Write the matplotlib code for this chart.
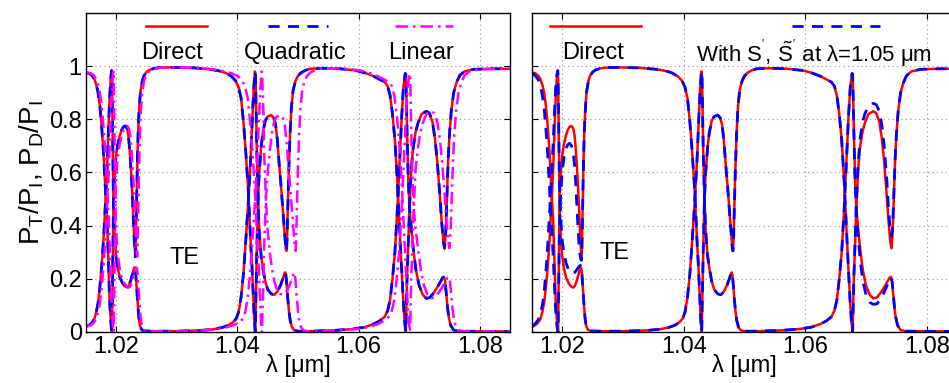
import matplotlib
matplotlib.use("Agg")
import matplotlib.pyplot as plt
from matplotlib.lines import Line2D

plt.rcParams['font.family'] = ['Liberation Sans', 'DejaVu Sans']
plt.rcParams['mathtext.fontset'] = 'custom'
plt.rcParams['mathtext.rm'] = 'Liberation Sans'
plt.rcParams['mathtext.it'] = 'Liberation Sans:italic'

# ---------------------------
# DATA
# ---------------------------
# transmitted power, direct computation
direct_T_x = [1.0150, 1.0155, 1.0160, 1.0164, 1.0167, 1.0170, 1.0173, 1.0176, 1.0179, 1.0182, 1.0185, 1.0187, 1.0189, 1.0191, 1.0192, 1.0193,
              1.0194, 1.0195, 1.0196, 1.0198, 1.0200, 1.0203, 1.0206, 1.0209, 1.0212, 1.0215, 1.0218, 1.0220, 1.0222, 1.0224, 1.0226, 1.0228,
              1.0230, 1.0231, 1.02315, 1.0232, 1.0233, 1.0234, 1.0235, 1.0236, 1.0237, 1.0238, 1.0240, 1.0243, 1.0246, 1.0250, 1.0255, 1.0262,
              1.0270, 1.0280, 1.0300,
              1.0330, 1.0355, 1.0370, 1.0380, 1.0390, 1.0397, 1.0402, 1.0406, 1.0410, 1.0414, 1.0418, 1.0422, 1.0424, 1.0426, 1.0428, 1.0429, 1.04295,
              1.0431, 1.0432, 1.0434, 1.0436, 1.0439, 1.0442, 1.0446, 1.0450, 1.0456, 1.0460, 1.0463, 1.0466, 1.0469, 1.0472, 1.0475, 1.0478,
              1.0480, 1.0481, 1.0482, 1.0483, 1.0485, 1.0487, 1.0489, 1.0492, 1.0496, 1.0500, 1.0505, 1.0512, 1.0520, 1.0540, 1.0570,
              1.0595, 1.0610, 1.0625, 1.0635, 1.0643, 1.0648, 1.0652, 1.0656, 1.0660, 1.0664, 1.0668, 1.0671, 1.0674, 1.0676, 1.0678,
              1.0680, 1.0682, 1.0684, 1.0687, 1.0690, 1.0694, 1.0698, 1.0704, 1.0712, 1.0717, 1.0722, 1.0726, 1.0730, 1.0734, 1.0737, 1.0740,
              1.0742, 1.0744, 1.0746, 1.0748, 1.0750, 1.0753, 1.0757, 1.0762, 1.0767, 1.0775, 1.0790, 1.0820, 1.0850]
direct_T_y = [0.976, 0.973, 0.965, 0.95, 0.93, 0.90, 0.85, 0.77, 0.67, 0.54, 0.41, 0.26, 0.12, 0.04, 0.01, 0.0,
              0.20, 0.42, 0.53, 0.62, 0.67, 0.71, 0.74, 0.76, 0.772, 0.775, 0.765, 0.74, 0.69, 0.62, 0.54, 0.43,
              0.33, 0.295, 0.283, 0.30, 0.42, 0.55, 0.66, 0.74, 0.80, 0.845, 0.905, 0.945, 0.965, 0.978, 0.986, 0.991,
              0.994, 0.995, 0.995,
              0.993, 0.988, 0.982, 0.975, 0.962, 0.945, 0.92, 0.88, 0.79, 0.67, 0.53, 0.33, 0.25, 0.14, 0.04, 0.01, 0.0,
              0.20, 0.31, 0.50, 0.60, 0.69, 0.75, 0.795, 0.81, 0.816, 0.805, 0.78, 0.72, 0.63, 0.55, 0.46, 0.37,
              0.31, 0.305, 0.35, 0.45, 0.62, 0.75, 0.84, 0.91, 0.945, 0.963, 0.975, 0.984, 0.99, 0.992, 0.99,
              0.984, 0.975, 0.962, 0.95, 0.94, 0.925, 0.89, 0.82, 0.72, 0.57, 0.38, 0.24, 0.11, 0.04, 0.0,
              0.20, 0.33, 0.46, 0.61, 0.69, 0.75, 0.785, 0.82, 0.83, 0.823, 0.79, 0.73, 0.64, 0.52, 0.42, 0.34,
              0.315, 0.38, 0.52, 0.65, 0.74, 0.83, 0.90, 0.94, 0.965, 0.98, 0.988, 0.99, 0.99]

# diffracted power, direct computation
direct_D_x = [1.0150, 1.0155, 1.0160, 1.0164, 1.0167, 1.0170, 1.0173, 1.0176, 1.0179, 1.0182, 1.0185, 1.0187, 1.0189, 1.0191, 1.01925,
              1.0193, 1.0194, 1.0195, 1.0196, 1.0198, 1.0200, 1.0203, 1.0206, 1.0210, 1.0214, 1.0218, 1.0221, 1.0224, 1.0227, 1.0229,
              1.0230, 1.0231, 1.0232, 1.0233, 1.0235, 1.0237, 1.0239, 1.0242, 1.0246, 1.0260, 1.0300,
              1.0340, 1.0360, 1.0375, 1.0385, 1.0393, 1.0398, 1.0402, 1.0406, 1.0410, 1.0414, 1.0418, 1.0422, 1.0425, 1.0427, 1.0429,
              1.0430, 1.0431, 1.0432, 1.0434, 1.0436, 1.0439, 1.0442, 1.0446, 1.0450, 1.0456, 1.0461, 1.0466, 1.0471, 1.0475, 1.0478,
              1.0479, 1.0480, 1.0481, 1.0483, 1.0485, 1.0487, 1.0490, 1.0494, 1.0500, 1.0520, 1.0560,
              1.0590, 1.0610, 1.0625, 1.0635, 1.0643, 1.0648, 1.0652, 1.0656, 1.0660, 1.0664, 1.0668, 1.0671, 1.0674, 1.0677, 1.0678,
              1.0679, 1.0680, 1.0682, 1.0684, 1.0687, 1.0691, 1.0695, 1.0700, 1.0706, 1.0712, 1.0718, 1.0725, 1.0733, 1.0739, 1.0741,
              1.0743, 1.0745, 1.0747, 1.0749, 1.0752, 1.0757, 1.0765, 1.0850]
direct_D_y = [0.020, 0.025, 0.035, 0.05, 0.075, 0.11, 0.17, 0.25, 0.35, 0.48, 0.62, 0.76, 0.88, 0.96, 0.983,
              0.95, 0.75, 0.54, 0.43, 0.33, 0.28, 0.235, 0.205, 0.185, 0.172, 0.167, 0.175, 0.195, 0.22, 0.238,
              0.243, 0.24, 0.225, 0.19, 0.12, 0.06, 0.025, 0.008, 0.004, 0.003, 0.003,
              0.006, 0.01, 0.017, 0.025, 0.037, 0.05, 0.075, 0.13, 0.22, 0.35, 0.49, 0.66, 0.82, 0.92, 0.98,
              0.96, 0.82, 0.68, 0.5, 0.38, 0.29, 0.24, 0.19, 0.16, 0.143, 0.14, 0.152, 0.175, 0.2, 0.222,
              0.224, 0.215, 0.19, 0.13, 0.08, 0.045, 0.018, 0.006, 0.003, 0.003, 0.006,
              0.011, 0.018, 0.03, 0.042, 0.057, 0.08, 0.12, 0.2, 0.3, 0.46, 0.65, 0.8, 0.92, 0.972, 0.97,
              0.88, 0.76, 0.58, 0.47, 0.39, 0.3, 0.23, 0.175, 0.14, 0.126, 0.13, 0.15, 0.18, 0.205, 0.207,
              0.19, 0.14, 0.09, 0.055, 0.025, 0.007, 0.003, 0.002]

# quadratic interpolation lies on top of the direct curves
quad_T_x, quad_T_y = direct_T_x, direct_T_y
quad_D_x, quad_D_y = direct_D_x, direct_D_y

# linear interpolation: same shapes, sitting a little to the right
lin_T_x = [1.0150, 1.0158, 1.0163, 1.0167, 1.0170, 1.0173, 1.0176, 1.0179, 1.0182, 1.0185, 1.0188, 1.0190, 1.0192, 1.0194, 1.0195, 1.0196,
           1.0197, 1.0198, 1.0199, 1.0201, 1.0203, 1.0206, 1.0209, 1.0212, 1.0215, 1.0218, 1.0221, 1.0223, 1.0225, 1.0227, 1.0229, 1.0231,
           1.0233, 1.0234, 1.02345, 1.0235, 1.0236, 1.0237, 1.0238, 1.0239, 1.0240, 1.0241, 1.0243, 1.0246, 1.0249, 1.0253, 1.0258, 1.0265,
           1.0273, 1.0283, 1.0303,
           1.0335, 1.0360, 1.0375, 1.0388, 1.0401, 1.0408, 1.0413, 1.0417, 1.0421, 1.0425, 1.0429, 1.0433, 1.0435, 1.0437, 1.0439, 1.0440, 1.04405,
           1.0443, 1.0444, 1.0447, 1.0450, 1.0454, 1.0457, 1.0461, 1.0465, 1.0471, 1.0475, 1.0478, 1.0481, 1.0484, 1.0487, 1.0490, 1.0493,
           1.0495, 1.0496, 1.0497, 1.0498, 1.0500, 1.0502, 1.0504, 1.0507, 1.0511, 1.0515, 1.0520, 1.0527, 1.0535, 1.0550, 1.0578,
           1.0602, 1.0617, 1.0632, 1.0642, 1.0650, 1.0655, 1.0659, 1.0663, 1.0667, 1.0671, 1.0675, 1.0678, 1.0681, 1.0683, 1.0685,
           1.0687, 1.0689, 1.0691, 1.0694, 1.0698, 1.0702, 1.0706, 1.0712, 1.0720, 1.0725, 1.0730, 1.0734, 1.0738, 1.0742, 1.0745, 1.0748,
           1.0750, 1.0752, 1.0754, 1.0756, 1.0758, 1.0761, 1.0765, 1.0770, 1.0775, 1.0783, 1.0798, 1.0828, 1.0858]
lin_T_y = direct_T_y
lin_D_x = [1.0150, 1.0158, 1.0163, 1.0167, 1.0170, 1.0173, 1.0176, 1.0179, 1.0182, 1.0185, 1.0188, 1.0190, 1.0192, 1.0194, 1.01955,
           1.0196, 1.0197, 1.0198, 1.0199, 1.0201, 1.0203, 1.0206, 1.0209, 1.0213, 1.0217, 1.0221, 1.0224, 1.0227, 1.0230, 1.0232,
           1.0233, 1.0234, 1.0235, 1.0236, 1.0238, 1.0240, 1.0242, 1.0245, 1.0249, 1.0263, 1.0303,
           1.0345, 1.0365, 1.0381, 1.0393, 1.0404, 1.0409, 1.0413, 1.0417, 1.0421, 1.0425, 1.0429, 1.0433, 1.0436, 1.0438, 1.0440,
           1.0441, 1.0443, 1.0444, 1.0447, 1.0450, 1.0454, 1.0457, 1.0461, 1.0465, 1.0471, 1.0476, 1.0481, 1.0486, 1.0490, 1.0493,
           1.0494, 1.0495, 1.0496, 1.0498, 1.0500, 1.0502, 1.0505, 1.0509, 1.0515, 1.0535, 1.0568,
           1.0597, 1.0617, 1.0632, 1.0642, 1.0650, 1.0655, 1.0659, 1.0663, 1.0667, 1.0671, 1.0675, 1.0678, 1.0681, 1.0684, 1.0685,
           1.0686, 1.0687, 1.0689, 1.0691, 1.0694, 1.0699, 1.0703, 1.0708, 1.0714, 1.0720, 1.0726, 1.0733, 1.0741, 1.0747, 1.0749,
           1.0751, 1.0753, 1.0755, 1.0757, 1.0760, 1.0765, 1.0773, 1.0858]
lin_D_y = direct_D_y

# right panel: with S', S~' taken at lambda = 1.05 um
sfix_T_x = direct_T_x
sfix_T_y = [0.975, 0.965, 0.95, 0.925, 0.89, 0.84, 0.76, 0.66, 0.53, 0.40, 0.28, 0.17, 0.08, 0.025, 0.005, 0.0,
            0.18, 0.36, 0.46, 0.55, 0.61, 0.66, 0.69, 0.705, 0.71, 0.70, 0.67, 0.63, 0.56, 0.47, 0.38, 0.31,
            0.275, 0.27, 0.27, 0.29, 0.40, 0.55, 0.66, 0.74, 0.80, 0.845, 0.905, 0.945, 0.965, 0.978, 0.986, 0.991,
            0.994, 0.995, 0.995,
            0.993, 0.988, 0.982, 0.975, 0.962, 0.945, 0.92, 0.88, 0.79, 0.67, 0.53, 0.33, 0.25, 0.14, 0.04, 0.01, 0.0,
            0.20, 0.31, 0.50, 0.60, 0.69, 0.75, 0.795, 0.81, 0.816, 0.805, 0.78, 0.72, 0.63, 0.55, 0.46, 0.37,
            0.31, 0.305, 0.35, 0.45, 0.62, 0.75, 0.84, 0.91, 0.945, 0.963, 0.975, 0.984, 0.99, 0.992, 0.99,
            0.984, 0.975, 0.962, 0.95, 0.94, 0.925, 0.89, 0.82, 0.72, 0.57, 0.38, 0.24, 0.11, 0.04, 0.0,
            0.20, 0.33, 0.47, 0.63, 0.72, 0.785, 0.82, 0.85, 0.86, 0.855, 0.83, 0.78, 0.70, 0.58, 0.47, 0.38,
            0.36, 0.40, 0.52, 0.65, 0.74, 0.83, 0.90, 0.94, 0.965, 0.98, 0.988, 0.99, 0.99]
sfix_D_x = direct_D_x
sfix_D_y = [0.022, 0.03, 0.045, 0.07, 0.10, 0.15, 0.23, 0.33, 0.45, 0.58, 0.72, 0.83, 0.92, 0.97, 0.983,
            0.95, 0.78, 0.60, 0.50, 0.40, 0.34, 0.29, 0.26, 0.235, 0.222, 0.22, 0.225, 0.235, 0.245, 0.25,
            0.25, 0.245, 0.225, 0.19, 0.12, 0.06, 0.025, 0.008, 0.004, 0.003, 0.003,
            0.006, 0.01, 0.017, 0.025, 0.037, 0.05, 0.075, 0.13, 0.22, 0.35, 0.49, 0.66, 0.82, 0.92, 0.98,
            0.96, 0.82, 0.68, 0.5, 0.38, 0.29, 0.24, 0.19, 0.16, 0.143, 0.14, 0.152, 0.175, 0.2, 0.222,
            0.224, 0.215, 0.19, 0.13, 0.08, 0.045, 0.018, 0.006, 0.003, 0.003, 0.006,
            0.011, 0.018, 0.03, 0.042, 0.057, 0.08, 0.12, 0.2, 0.3, 0.46, 0.65, 0.8, 0.92, 0.972, 0.97,
            0.88, 0.76, 0.57, 0.45, 0.36, 0.26, 0.19, 0.14, 0.112, 0.104, 0.106, 0.125, 0.165, 0.2, 0.205,
            0.19, 0.14, 0.09, 0.055, 0.025, 0.007, 0.003, 0.002]

xticks = [1.02, 1.04, 1.06, 1.08]
yticks = [0, 0.2, 0.4, 0.6, 0.8, 1]
ytick_labels = ["0", "0.2", "0.4", "0.6", "0.8", "1"]

RED = "#ff0000"
BLUE = "#0000ff"
MAG = "#ff00ff"
FS = 17

fig = plt.figure(figsize=(9.49, 3.83), dpi=100)
axL = fig.add_axes([0.0906, 0.1332, 0.4468, 0.833])
axR = fig.add_axes([0.5606, 0.1332, 0.4479, 0.833])


def style(ax, show_ylabels):
    ax.set_xlim(1.015, 1.085)
    ax.set_ylim(0, 1.2)
    ax.set_xticks(xticks)
    ax.set_xticklabels(["1.02", "1.04", "1.06", "1.08"])
    ax.set_yticks(yticks)
    if show_ylabels:
        ax.set_yticklabels(ytick_labels)
    else:
        ax.set_yticklabels([])
    ax.tick_params(direction="in", length=4, width=0.8, labelsize=FS, top=True, right=True, pad=3)
    ax.grid(True, linestyle=(0, (1, 3)), color="#909090", linewidth=0.8)
    ax.set_axisbelow(True)
    for s in ax.spines.values():
        s.set_linewidth(1.0)
    ax.set_xlabel("λ [μm]", fontsize=FS, labelpad=-3)


# ---------------------------
# LEFT PANEL
# ---------------------------
for xs, ys in [(direct_T_x, direct_T_y), (direct_D_x, direct_D_y)]:
    axL.plot(xs, ys, color=RED, lw=1.8)
for xs, ys in [(quad_T_x, quad_T_y), (quad_D_x, quad_D_y)]:
    axL.plot(xs, ys, color=BLUE, lw=2.0, dashes=(4, 3))
for xs, ys in [(lin_T_x, lin_T_y), (lin_D_x, lin_D_y)]:
    axL.plot(xs, ys, color=MAG, lw=1.8, dashes=(5, 2, 1, 2))

style(axL, True)
axL.set_ylabel(r"P$_\mathrm{T}$/P$_\mathrm{I}$, P$_\mathrm{D}$/P$_\mathrm{I}$", fontsize=20, labelpad=2)
axL.text(1.0313, 0.278, "TE", fontsize=FS, ha="center", va="center")

# legend: sample lines above the labels
axL.add_line(Line2D([0.1415, 0.285], [0.959, 0.959], transform=axL.transAxes, color=RED, lw=1.8))
axL.add_line(Line2D([0.429, 0.571], [0.959, 0.959], transform=axL.transAxes, color=BLUE, lw=2.0, dashes=(4, 3)))
axL.add_line(Line2D([0.729, 0.866], [0.959, 0.959], transform=axL.transAxes, color=MAG, lw=1.8, dashes=(5, 2, 1, 2)))
axL.text(0.203, 0.875, "Direct", transform=axL.transAxes, fontsize=FS, ha="center", va="center")
axL.text(0.493, 0.875, "Quadratic", transform=axL.transAxes, fontsize=FS, ha="center", va="center")
axL.text(0.790, 0.875, "Linear", transform=axL.transAxes, fontsize=FS, ha="center", va="center")

# ---------------------------
# RIGHT PANEL
# ---------------------------
for xs, ys in [(direct_T_x, direct_T_y), (direct_D_x, direct_D_y)]:
    axR.plot(xs, ys, color=RED, lw=1.8)
for xs, ys in [(sfix_T_x, sfix_T_y), (sfix_D_x, sfix_D_y)]:
    axR.plot(xs, ys, color=BLUE, lw=2.0, dashes=(4, 3))

style(axR, False)
axR.text(1.0286, 0.296, "TE", fontsize=FS, ha="center", va="center")
axR.add_line(Line2D([0.042, 0.256], [0.959, 0.959], transform=axR.transAxes, color=RED, lw=1.8))
axR.add_line(Line2D([0.612, 0.819], [0.959, 0.959], transform=axR.transAxes, color=BLUE, lw=2.0, dashes=(4, 3)))
axR.text(0.144, 0.875, "Direct", transform=axR.transAxes, fontsize=FS, ha="center", va="center")
axR.text(0.386, 0.875, r"With S$^{'}$, $\tilde{\mathrm{S}}^{'}$ at λ=1.05 μm",
         transform=axR.transAxes, fontsize=16, ha="left", va="center")

fig.savefig("out.png", dpi=100)
